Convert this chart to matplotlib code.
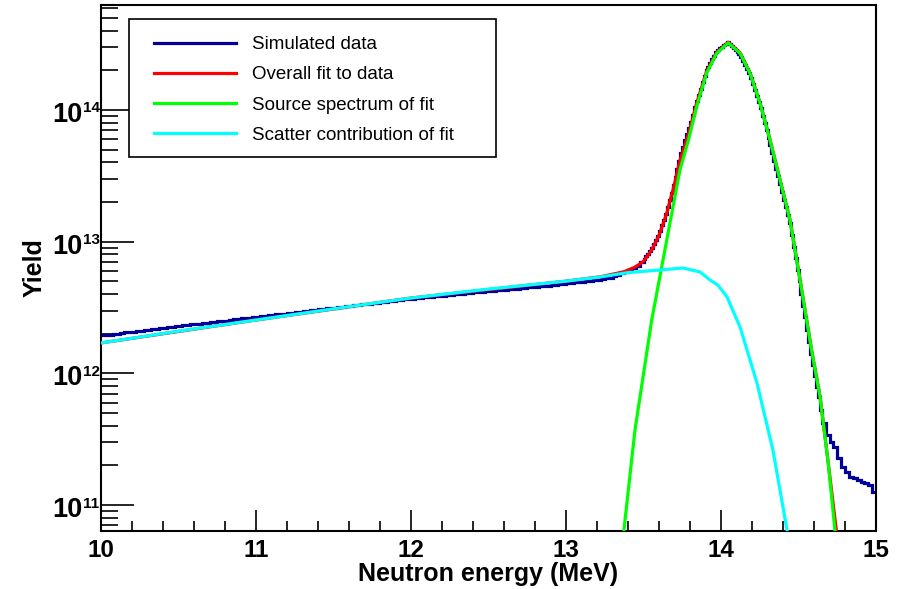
import numpy as np
import matplotlib
matplotlib.use("Agg")
import matplotlib.pyplot as plt
from matplotlib.patches import Rectangle
from matplotlib.transforms import offset_copy
from matplotlib.ticker import LogLocator, MultipleLocator, FuncFormatter, NullFormatter

plt.rcParams["font.family"] = ["Liberation Sans", "DejaVu Sans"]

# ── simulated data, log10(yield) per bin ──
# 0.025 MeV bins 10 -> 13.5, 0.0125 MeV bins 13.5 -> 14.65, 0.025 MeV bins 14.65 -> 15
data_low_log10 = [
    # 10 - 11 MeV
    12.290, 12.294, 12.295, 12.300, 12.302, 12.305, 12.311, 12.312, 12.316, 12.322,
    12.323, 12.329, 12.331, 12.336, 12.338, 12.343, 12.346, 12.350, 12.354, 12.357,
    12.360, 12.365, 12.366, 12.372, 12.374, 12.378, 12.382, 12.384, 12.389, 12.392,
    12.395, 12.400, 12.401, 12.406, 12.409, 12.412, 12.417, 12.419, 12.423, 12.427,
    # 11 - 12 MeV
    12.430, 12.433, 12.437, 12.440, 12.444, 12.447, 12.451, 12.453, 12.458, 12.461,
    12.464, 12.469, 12.471, 12.475, 12.478, 12.482, 12.486, 12.488, 12.493, 12.496,
    12.499, 12.503, 12.506, 12.510, 12.512, 12.517, 12.520, 12.523, 12.527, 12.530,
    12.533, 12.537, 12.540, 12.544, 12.547, 12.550, 12.554, 12.557, 12.561, 12.565,
    # 12 - 13 MeV
    12.568, 12.571, 12.573, 12.577, 12.579, 12.582, 12.586, 12.588, 12.591, 12.594,
    12.597, 12.600, 12.602, 12.606, 12.608, 12.611, 12.614, 12.616, 12.620, 12.622,
    12.625, 12.628, 12.630, 12.634, 12.636, 12.639, 12.642, 12.644, 12.648, 12.650,
    12.653, 12.656, 12.658, 12.662, 12.664, 12.667, 12.670, 12.673, 12.677, 12.680,
    # 13 - 13.5 MeV
    12.683, 12.686, 12.690, 12.693, 12.697, 12.700, 12.704, 12.708, 12.712, 12.717,
    12.722, 12.727, 12.740, 12.750, 12.760, 12.772, 12.788, 12.800, 12.818, 12.842,
]
data_peak_log10 = [
    12.870, 12.890, 12.910, 12.930, 12.955, 12.985, 13.015, 13.045, 13.080, 13.125,
    13.165, 13.210, 13.260, 13.315, 13.370, 13.430, 13.490, 13.555, 13.615, 13.670,
    13.720, 13.770, 13.820, 13.860, 13.910, 13.965, 14.020, 14.070, 14.115, 14.160,
    14.210, 14.255, 14.300, 14.330, 14.357, 14.385, 14.410, 14.438, 14.455, 14.468,
    14.480, 14.492, 14.503, 14.513, 14.503, 14.488, 14.473, 14.458, 14.443, 14.428,
    14.403, 14.372, 14.342, 14.310, 14.280, 14.240, 14.195, 14.150, 14.105, 14.060,
    14.012, 13.955, 13.900, 13.845, 13.790, 13.735, 13.675, 13.615, 13.555, 13.497,
    13.440, 13.380, 13.320, 13.260, 13.200, 13.140, 13.050, 12.960, 12.875, 12.785,
    12.700, 12.605, 12.515, 12.425, 12.330, 12.240, 12.150, 12.060, 11.980, 11.900,
    11.820, 11.720,
]
data_tail_log10 = [
    11.620, 11.530, 11.480, 11.440, 11.360, 11.290, 11.250, 11.215, 11.205, 11.190,
    11.175, 11.168, 11.150, 11.100,
]

# ── fit curves (energy in MeV, log10 yield) ──
overall_E = [10.0, 11.0, 12.0, 13.0, 13.22, 13.37, 13.445, 13.5, 13.553, 13.6,
             13.65, 13.7, 13.735, 13.79, 13.843, 13.907, 13.972, 14.047, 14.123,
             14.187, 14.252, 14.316, 14.381, 14.445, 14.51, 14.584, 14.639,
             14.692, 14.745, 14.76]
overall_log10 = [12.231, 12.405, 12.572, 12.70, 12.733, 12.77, 12.806, 12.85, 12.937,
                 13.047, 13.215, 13.438, 13.616, 13.816, 14.05, 14.292, 14.438,
                 14.515, 14.434, 14.282, 14.053, 13.774, 13.468, 13.165, 12.709,
                 12.178, 11.823, 11.317, 10.80, 10.60]

source_E = [13.37, 13.445, 13.553, 13.735, 13.79, 13.843, 13.907, 13.972, 14.047,
            14.123, 14.187, 14.252, 14.316, 14.381, 14.445, 14.51, 14.584, 14.639,
            14.692, 14.735, 14.75]
source_log10 = [10.77, 11.57, 12.405, 13.544, 13.772, 14.025, 14.279, 14.43, 14.51,
                14.43, 14.279, 14.051, 13.772, 13.468, 13.165, 12.709, 12.178, 11.823,
                11.317, 10.81, 10.65]

scatter_E = [10.0, 10.5, 11.0, 11.5, 12.0, 12.5, 13.0, 13.22, 13.4, 13.606, 13.755,
             13.865, 13.929, 13.98, 14.039, 14.103, 14.123, 14.232, 14.335, 14.426,
             14.45]
scatter_log10 = [12.231, 12.32, 12.405, 12.49, 12.572, 12.64, 12.70, 12.732, 12.765,
                 12.785, 12.80, 12.77, 12.709, 12.67, 12.58, 12.405, 12.352, 11.927,
                 11.418, 10.81, 10.65]

ytick_exponents = [11, 12, 13, 14]

labels = ["Simulated data", "Overall fit to data", "Source spectrum of fit",
          "Scatter contribution of fit"]
colors = ["#000099", "#ff0000", "#00ff00", "#00ffff"]

fig = plt.figure(figsize=(9.0, 5.89), dpi=100)
ax = fig.add_axes([101 / 900, 1 - 531 / 589, 775 / 900, 526 / 589])

edges = np.concatenate([
    np.linspace(10.0, 13.5, len(data_low_log10) + 1),
    np.linspace(13.5, 14.65, len(data_peak_log10) + 1)[1:],
    np.linspace(14.65, 15.0, len(data_tail_log10) + 1)[1:],
])
data_log10 = np.array(data_low_log10 + data_peak_log10 + data_tail_log10)

lw = 2.3
ax.stairs(10 ** data_log10, edges, baseline=None, color=colors[0], lw=lw,
          label=labels[0], zorder=2)
ax.plot(overall_E, 10 ** np.array(overall_log10), color=colors[1], lw=lw,
        label=labels[1], zorder=3)
ax.plot(source_E, 10 ** np.array(source_log10), color=colors[2], lw=lw,
        label=labels[2], zorder=4)
ax.plot(scatter_E, 10 ** np.array(scatter_log10), color=colors[3], lw=lw,
        label=labels[3], zorder=5)

ax.set_yscale("log")
ax.set_xlim(10, 15)
ax.set_ylim(6.35e10, 6.27e14)

ax.xaxis.set_major_locator(MultipleLocator(1))
ax.xaxis.set_minor_locator(MultipleLocator(0.2))
ax.xaxis.set_major_formatter(FuncFormatter(lambda v, p: "%d" % v))
ax.set_yticks([10.0 ** e for e in ytick_exponents])
ax.yaxis.set_minor_locator(LogLocator(base=10, subs=np.arange(2, 10)))
ax.yaxis.set_major_formatter(NullFormatter())
ax.yaxis.set_minor_formatter(NullFormatter())

ax.tick_params(axis="x", which="major", direction="in", length=15, width=1.2,
               labelsize=17.5, pad=6, top=False)
ax.tick_params(axis="x", which="minor", direction="in", length=7.5, width=1.2, top=False)
ax.tick_params(axis="y", which="major", direction="in", length=24, width=1.2, right=False)
ax.tick_params(axis="y", which="minor", direction="in", length=12, width=1.2, right=False)
for lab in ax.get_xticklabels():
    lab.set_fontweight("bold")
for sp in ax.spines.values():
    sp.set_linewidth(1.5)

# ROOT-style 10^n labels: big base, small exponent
ytr = ax.get_yaxis_transform()
base_tr = offset_copy(ytr, fig=fig, x=0, y=-5, units="dots")
exp_tr = offset_copy(ytr, fig=fig, x=0.5, y=1.5, units="dots")
label_x = (82 - 101) / 775
for e in ytick_exponents:
    ax.text(label_x, 10.0 ** e, "10", transform=base_tr, ha="right", va="center",
            fontsize=19.5, fontweight="bold")
    ax.text(label_x, 10.0 ** e, str(e), transform=exp_tr, ha="left", va="center",
            fontsize=11, fontweight="bold")

ax.set_xlabel("Neutron energy (MeV)", fontsize=18, fontweight="bold")
ax.set_ylabel("Yield", fontsize=18, fontweight="bold")
ax.xaxis.set_label_coords(0.5, -0.058)
ax.yaxis.set_label_coords(-0.070, 0.5)

# legend box
ax.add_patch(Rectangle(((129 - 101) / 775, (531 - 157) / 526), 367 / 775, 138 / 526,
                       transform=ax.transAxes, facecolor="white", edgecolor="black",
                       lw=1.2, zorder=10))
ax.legend(loc="upper left", bbox_to_anchor=((154 - 101) / 775, (531 - 36) / 526),
          frameon=False, fontsize=13.5, handlelength=4.35, handletextpad=0.9,
          labelspacing=0.70, borderpad=0, borderaxespad=0).set_zorder(11)

fig.savefig("out.png", dpi=100)
